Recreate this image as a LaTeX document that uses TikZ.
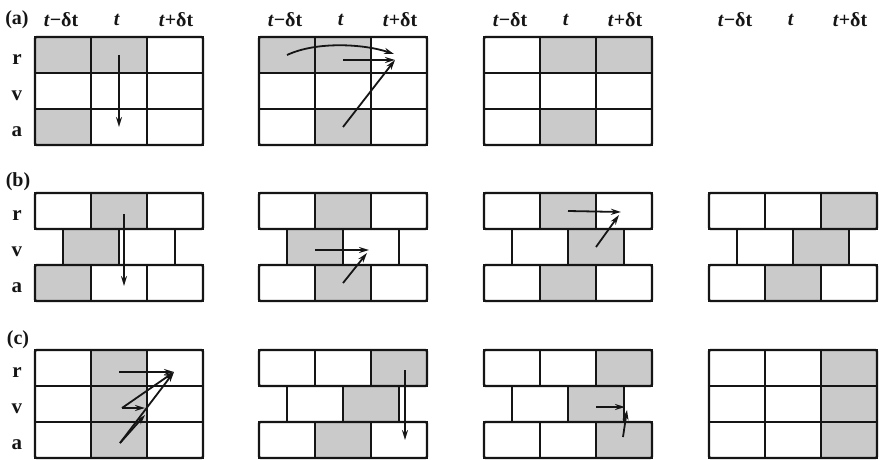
\documentclass[tikz,border=0pt]{standalone}
\usepackage{fontspec}
\setmainfont{Liberation Serif}
\usepackage{xcolor}
\usetikzlibrary{arrows.meta,calc,backgrounds}
\definecolor{vtink}{HTML}{151515}
\definecolor{vtgrey}{HTML}{CACACA}
\newcommand{\tlabprev}{\textit{t}−δt}
\newcommand{\tlabnow}{\textit{t}}
\newcommand{\tlabnext}{\textit{t}+δt}
\tikzset{
  cell/.style={rectangle,draw=vtink,line width=1.7pt,minimum width=56pt,
               minimum height=36pt,inner sep=0pt,outer sep=0pt},
  frame/.style={draw=vtink,line width=2.1pt,rounded corners=1.5pt},
  hdr/.style={inner sep=0pt,text=vtink,font=\fontsize{20}{20}\selectfont\bfseries},
  rowlab/.style={inner sep=0pt,text=vtink,font=\fontsize{21}{21}\selectfont\bfseries},
  panel/.style={inner sep=0pt,text=vtink,font=\fontsize{20}{20}\selectfont\bfseries},
  arrow/.style={-{Stealth[length=10pt,width=6pt]},line width=1.8pt,draw=vtink},
}

\begin{document}
\begin{tikzpicture}[x=1pt,y=-1pt]
  \useasboundingbox (0,0) rectangle (879,460);
  % plain 3x3 grids
  \foreach \g/\gx/\gy in {A1/35/37, A2/259/37, A3/484/37, C1/35/350, C4/709/350}{
    \foreach \rn/\r in {r/0, v/1, a/2}{
      \foreach \c in {0,1,2}{
        \node[cell] (\g-\rn-\c) at ({\gx+(\c+0.5)*56},{\gy+(\r+0.5)*36}) {};
      }
    }
    \draw[frame] (\g-r-0.north west) rectangle (\g-a-2.south east);
  }
  % brick grids, v row shifted by half a step
  \foreach \g/\gx/\gy in {B1/35/193, B2/259/193, B3/484/193, B4/709/193, C2/259/350, C3/484/350}{
    \foreach \rn/\r in {r/0, a/2}{
      \foreach \c in {0,1,2}{
        \node[cell] (\g-\rn-\c) at ({\gx+(\c+0.5)*56},{\gy+(\r+0.5)*36}) {};
      }
      \draw[frame] (\g-\rn-0.north west) rectangle (\g-\rn-2.south east);
    }
    \foreach \c in {0,1}{
      \node[cell] (\g-v-\c) at ({\gx+(\c+1)*56},{\gy+54}) {};
    }
  }
  % stored values
  \begin{scope}[on background layer]
    \fill[white] (0,0) rectangle (879,460);
    \foreach \s in {A1-r-0, A1-r-1, A1-a-0, A2-r-0, A2-r-1, A2-a-1, A3-r-1, A3-r-2, A3-a-1,
                    B1-r-1, B1-v-0, B1-a-0, B2-r-1, B2-v-0, B2-a-1, B3-r-1, B3-v-1, B3-a-1,
                    B4-r-2, B4-v-1, B4-a-1, C1-r-1, C1-v-1, C1-a-1, C2-r-2, C2-v-1, C2-a-1,
                    C3-r-2, C3-v-1, C3-a-2, C4-r-2, C4-v-2, C4-a-2}{
      \fill[vtgrey] (\s.south west) rectangle (\s.north east);
    }
  \end{scope}
  % labels
  \foreach \gx [count=\i] in {35,259,484,709}{
    \node[hdr] (hd\i-0) at ({\gx+26},20) {\tlabprev};
    \node[hdr] (hd\i-1) at ({\gx+82},20) {\tlabnow};
    \node[hdr] (hd\i-2) at ({\gx+141},20) {\tlabnext};
  }
  \node[panel] (pa) at (17,20) {(a)};
  \node[panel] (pb) at (18,182) {(b)};
  \node[panel] (pc) at (18,340) {(c)};
  \foreach \p/\gy in {a/37, b/193, c/350}{
    \foreach \rn/\r in {r/0, v/1, a/2}{
      \node[rowlab] (lab-\p-\rn) at (17,{\gy+(\r+0.5)*36+5}) {\rn};
    }
  }
  % (a) original form
  \draw[arrow] (A1-r-1.center) -- (A1-a-1.center);
  \coordinate (A2-tipa) at ($(A2-r-2.center)+(-5,-1)$);
  \coordinate (A2-tipb) at ($(A2-r-2.center)+(-4,5)$);
  \draw[arrow] (A2-r-0.center) .. controls +(30,-14) and +(-30,-10) .. (A2-tipa);
  \draw[arrow] ($(A2-r-1.center)+(0,5)$) -- (A2-tipb);
  \draw[arrow] (A2-a-1.center) -- (A2-tipb);
  % (b) leap-frog form
  \draw[arrow] ($(B1-r-1.center)+(5,3)$) -- ($(B1-a-1.center)+(5,3)$);
  \draw[arrow] ($(B2-v-0.center)+(0,3)$) -- ($(B2-v-1.center)+(-2,3)$);
  \draw[arrow] (B2-a-1.center) -- ($(B2-v-1.center)+(-4,6)$);
  \draw[arrow] (B3-r-1.center) -- ($(B3-r-2.center)+(-3,1)$);
  \draw[arrow] (B3-v-1.center) -- ($(B3-r-2.center)+(-5,4)$);
  % (c) velocity form
  \coordinate (C1-tip) at ($(C1-r-2.center)+(-1,4)$);
  \coordinate (C1-half) at ($(C1-v-1.east)+(-2,4)$);
  \draw[arrow] ($(C1-r-1.center)+(0,4)$) -- (C1-tip);
  \draw[arrow] ($(C1-v-1.center)+(3,4)$) -- (C1-tip);
  \draw[arrow] ($(C1-a-1.center)+(1,3)$) -- (C1-tip);
  \draw[arrow] ($(C1-v-1.center)+(3,4)$) -- (C1-half);
  \draw[arrow] ($(C1-a-1.center)+(1,3)$) -- ($(C1-half)+(0,7)$);
  \draw[arrow] ($(C2-r-2.center)+(6,2)$) -- ($(C2-a-2.center)+(6,0)$);
  \draw[arrow] ($(C3-v-1.center)+(0,3)$) -- ($(C3-v-1.east)+(1,3)$);
  \draw[arrow] ($(C3-a-2.center)+(-1,-3)$) -- ($(C3-v-1.east)+(3,6)$);
\end{tikzpicture}
\end{document}
